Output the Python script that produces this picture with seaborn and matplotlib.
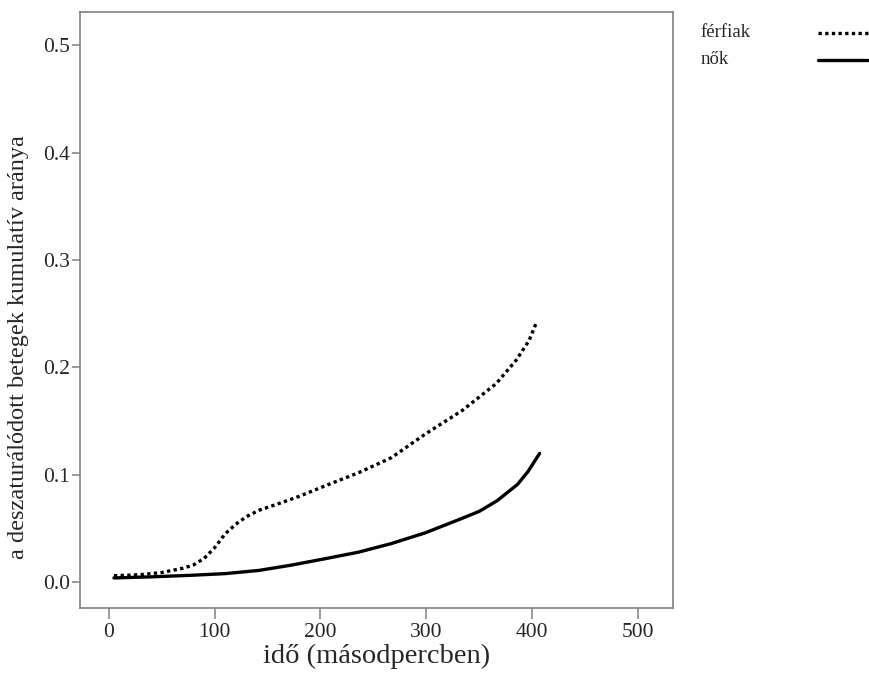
import pandas as pd
import numpy as np
import matplotlib
matplotlib.use("Agg")
import matplotlib.pyplot as plt
from matplotlib.lines import Line2D
import seaborn as sns

# values
ferfi_ido = [5, 30, 50, 70, 80, 90, 100, 110, 120, 130, 142, 160, 180, 205, 236, 267, 299, 334, 366, 385, 397, 404]
ferfi_arany = [0.006, 0.007, 0.009, 0.013, 0.016, 0.022, 0.032, 0.045, 0.054, 0.061, 0.067, 0.073, 0.080,
               0.090, 0.102, 0.116, 0.138, 0.160, 0.185, 0.207, 0.225, 0.242]
no_ido = [5, 40, 79, 110, 142, 173, 205, 236, 267, 299, 330, 350, 367, 386, 396, 407]
no_arany = [0.004, 0.005, 0.0065, 0.008, 0.011, 0.016, 0.022, 0.028, 0.036, 0.046, 0.058, 0.066, 0.076, 0.091, 0.103, 0.120]
csoportok = ["férfiak", "nők"]
x_ticks = [0, 100, 200, 300, 400, 500]
y_ticks = [0.0, 0.1, 0.2, 0.3, 0.4, 0.5]

df = pd.concat([
    pd.DataFrame({"ido": ferfi_ido, "arany": ferfi_arany, "nem": csoportok[0]}),
    pd.DataFrame({"ido": no_ido, "arany": no_arany, "nem": csoportok[1]}),
])

sns.set_style("white")
plt.rcParams["font.family"] = ["Liberation Serif", "DejaVu Serif"]

fig = plt.figure(figsize=(8.7, 6.73), dpi=100)
ax = fig.add_axes([0.092, 0.0966, 0.6816, 0.8854])

sns.lineplot(data=df, x="ido", y="arany", style="nem", dashes={"férfiak": (1, 1), "nők": ""},
             color="black", linewidth=2.4, estimator=None, sort=False, legend=False, ax=ax)

ax.set_xlim(-27, 533)
ax.set_ylim(-0.024, 0.531)
ax.set_xticks(x_ticks)
ax.set_yticks(y_ticks)
ax.set_yticklabels([f"{v:.1f}" for v in y_ticks])
ax.set_xlabel("idő (másodpercben)", fontsize=20.5)
ax.set_ylabel("a deszaturálódott betegek kumulatív aránya", fontsize=17.5)
ax.xaxis.set_label_coords(0.5, -0.061)
ax.yaxis.set_label_coords(-0.086, 0.438)

for s in ax.spines.values():
    s.set_color("#808080")
    s.set_linewidth(1.2)
ax.tick_params(axis="x", which="major", direction="out", length=8, width=1.1, color="#808080",
               labelsize=15.5, pad=3, bottom=True)
ax.tick_params(axis="y", which="major", direction="out", length=6, width=1.1, color="#808080",
               labelsize=15.5, pad=1, left=True)

# legend: label on the left, key on the right
for i, (lab, ls) in enumerate(zip(csoportok, [(0, (1, 1)), "-"])):
    yy = 0.951 - i * 0.040
    fig.text(0.805, yy, lab, fontsize=13.5, va="center", ha="left")
    fig.add_artist(Line2D([0.940, 0.998], [yy, yy], transform=fig.transFigure,
                          color="black", linewidth=2.4, linestyle=ls))

fig.savefig("out.png", dpi=100)
